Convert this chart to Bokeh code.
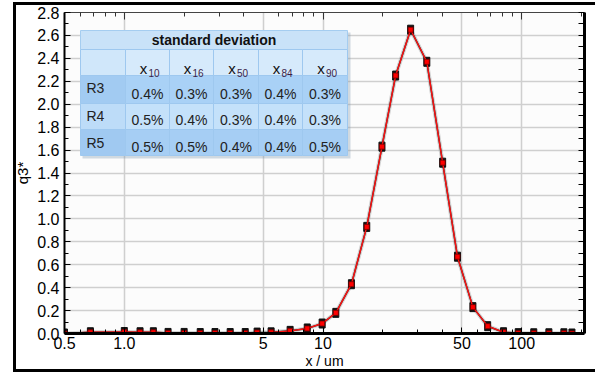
import numpy as np
from bokeh.plotting import figure
from bokeh.models import Range1d, FixedTicker, LinearAxis, LogAxis, PrintfTickFormatter
from bokeh.core.properties import value
from bokeh.embed import file_html
from bokeh.resources import INLINE

# ---------------- data ----------------
x_um = [0.5, 0.675, 1.0, 1.2, 1.4, 1.66, 2.0, 2.41, 2.86, 3.41, 4.06, 4.66, 5.48,
        6.83, 8.33, 9.9, 11.6, 13.9, 16.6, 19.8, 23.2, 27.6, 33.3, 40.0, 47.5,
        56.8, 67.4, 81, 96, 115, 137, 163, 179]
q3 = [0.0, 0.011, 0.013, 0.011, 0.011, 0.005, 0.005, 0.004, 0.004, 0.004, 0.004,
      0.008, 0.010, 0.023, 0.044, 0.087, 0.18, 0.43, 0.93, 1.63, 2.25, 2.65,
      2.37, 1.49, 0.67, 0.23, 0.064, 0.011, 0.003, 0.002, 0.002, 0.002, 0.0]

x_tick_values = [0.5, 1, 5, 10, 50, 100]
x_tick_labels = ["0.5", "1.0", "5", "10", "50", "100"]
x_minor_values = [0.6, 0.7, 0.8, 0.9, 2, 3, 4, 6, 7, 8, 9, 20, 30, 40, 60, 70, 80, 90, 200]
y_tick_values = [0.0, 0.2, 0.4, 0.6, 0.8, 1.0, 1.2, 1.4, 1.6, 1.8, 2.0, 2.2, 2.4, 2.6, 2.8]
y_minor_values = [0.1, 0.3, 0.5, 0.7, 0.9, 1.1, 1.3, 1.5, 1.7, 1.9, 2.1, 2.3, 2.5, 2.7]

table_title = "standard deviation"
table_cols = ["10", "16", "50", "84", "90"]
table_rows = ["R3", "R4", "R5"]
sd_R3 = ["0.4%", "0.3%", "0.3%", "0.4%", "0.3%"]
sd_R4 = ["0.5%", "0.4%", "0.3%", "0.4%", "0.3%"]
sd_R5 = ["0.5%", "0.5%", "0.4%", "0.4%", "0.5%"]

# ---------------- figure ----------------
X0, X1 = 0.5, 207.0
Y0, Y1 = 0.0, 2.8
FONT = value("Liberation Sans")

p = figure(width=595, height=372, x_axis_type="log",
           x_range=Range1d(X0, X1), y_range=Range1d(Y0, Y1),
           output_backend="svg", toolbar_location=None,
           min_border_left=64, min_border_right=11, min_border_top=12, min_border_bottom=39)
# outer frame lines of the chart (left, top, bottom) drawn as inset shadows behind a transparent canvas
p.styles = {"box-shadow": "inset 13px 0 0 0 white, inset 0 2px 0 0 white, "
                          "inset 16px 0 0 0 black, inset 0 5px 0 0 black, "
                          "inset 0 -3px 0 0 black"}
p.background_fill_color = "#fcfcfc"
p.border_fill_color = None
p.outline_line_color = None

# bottom axis
xa = p.xaxis[0]
xa.ticker = FixedTicker(ticks=x_tick_values, minor_ticks=x_minor_values)
xa.major_label_overrides = {float(v): s for v, s in zip(x_tick_values, x_tick_labels)}
xa.axis_line_width = 3
xa.major_tick_in = 6
xa.major_tick_out = 0
xa.minor_tick_in = 4
xa.minor_tick_out = 0
xa.major_label_standoff = 3
xa.major_label_text_font = "Liberation Sans"
xa.major_label_text_font_size = "16px"
xa.major_label_text_color = "#000000"
xa.axis_label = "x / um"
xa.axis_label_text_font = "Liberation Sans"
xa.axis_label_text_font_size = "14px"
xa.axis_label_text_font_style = "normal"
xa.axis_label_text_color = "#000000"
xa.axis_label_standoff = 1

# left axis
ya = p.yaxis[0]
ya.ticker = FixedTicker(ticks=y_tick_values, minor_ticks=y_minor_values)
ya.formatter = PrintfTickFormatter(format="%.1f")
ya.axis_line_width = 2
ya.major_tick_in = 6
ya.major_tick_out = 0
ya.minor_tick_in = 4
ya.minor_tick_out = 0
ya.major_label_standoff = 5
ya.major_label_text_font = "Liberation Sans"
ya.major_label_text_font_size = "16px"
ya.major_label_text_color = "#000000"
ya.axis_label = "q3*"
ya.axis_label_text_font = "Liberation Sans"
ya.axis_label_text_font_size = "15px"
ya.axis_label_text_font_style = "normal"
ya.axis_label_text_color = "#000000"
ya.axis_label_standoff = 3

# right axis (ticks only)
ra = LinearAxis(ticker=FixedTicker(ticks=y_tick_values + y_minor_values, minor_ticks=[]),
                major_label_text_font_size="1px", major_label_text_alpha=0.0,
                axis_line_width=3,
                major_tick_in=6, major_tick_out=0, minor_tick_in=0, minor_tick_out=0,
                major_label_standoff=0)
p.add_layout(ra, "right")

# top axis (ticks only)
ta = LogAxis(ticker=FixedTicker(ticks=[1, 10, 100], minor_ticks=[0.5] + x_minor_values),
             major_label_text_font_size="1px", major_label_text_alpha=0.0,
             axis_line_width=1, axis_line_color="#444444",
             major_tick_in=7, major_tick_out=0, minor_tick_in=4, minor_tick_out=0,
             major_tick_line_color="#333333", minor_tick_line_color="#333333",
             major_label_standoff=0)
p.add_layout(ta, "above")

# grid
p.xgrid.ticker = FixedTicker(ticks=x_tick_values)
p.ygrid.ticker = FixedTicker(ticks=y_tick_values)
p.xgrid.grid_line_color = "#cfcfcf"
p.ygrid.grid_line_color = "#cfcfcf"
p.xgrid.grid_line_width = 1.5
p.ygrid.grid_line_width = 1.5

# ---------------- curves ----------------
p.line(x_um, q3, line_color="#888888", line_width=4, line_alpha=0.35)
p.line(x_um, q3, line_color="#203030", line_width=1.6)
p.rect(x_um, q3, width=6, height=9, width_units="screen", height_units="screen",
       fill_color="#111111", line_color="#111111")
p.line(x_um, q3, line_color="#ff1010", line_width=1.4)
p.scatter(x_um, q3, marker="square", size=5, fill_color="#ff0000", line_color="#7a0000", line_width=0.8)

# ---------------- table (positions referenced to the frame) ----------------
FL, FR, FT, FB = 64.0, 584.0, 12.0, 333.0
def dx(px):
    return 10 ** (np.log10(X0) + (px - FL) / (FR - FL) * (np.log10(X1) - np.log10(X0)))
def dy(py):
    return Y0 + (FB - py) / (FB - FT) * (Y1 - Y0)

col_px = [80, 125, 169, 213, 258, 302, 347]
row_py = [30, 49, 75, 103, 129, 155]

# shadow
p.quad(left=[dx(col_px[0] + 2)], right=[dx(col_px[-1] + 3)], top=[dy(row_py[0] + 2)],
       bottom=[dy(row_py[-1] + 3)], fill_color="#7f97ad", fill_alpha=0.35, line_color=None)

row_colors = ["#c9e2f8", "#d6eafb", "#a9d1f6", "#c4e1fa", "#a6cef4"]
first_col_colors = ["#c9e2f8", "#d0e7fa", "#a2cbf2", "#bddcf8", "#a0c9f1"]
for r in range(5):
    top, bot = dy(row_py[r]), dy(row_py[r + 1])
    if r == 0:
        p.quad(left=[dx(col_px[0])], right=[dx(col_px[-1])], top=[top], bottom=[bot],
               fill_color=row_colors[0], line_color="#a5cdf0", line_width=1)
    else:
        lefts = [dx(c) for c in col_px[:-1]]
        rights = [dx(c) for c in col_px[1:]]
        fills = [first_col_colors[r]] + [row_colors[r]] * 5
        p.quad(left=lefts, right=rights, top=[top] * 6, bottom=[bot] * 6,
               fill_color=fills, line_color="#9ec8ef", line_width=1)

cx = [(a + b) / 2 for a, b in zip(col_px[1:-1], col_px[2:])]
p.text(x=[dx((col_px[0] + col_px[-1]) / 2)], y=[dy(39.5)], text=[table_title],
       text_font=FONT, text_font_size="14px", text_font_style="bold",
       text_align="center", text_baseline="middle", text_color="#111111")
p.text(x=[dx(c - 4) for c in cx], y=[dy(68)] * 5, text=["x"] * 5,
       text_font=FONT, text_font_size="15px", text_align="center",
       text_baseline="middle", text_color="#111111")
p.text(x=[dx(c + 1) for c in cx], y=[dy(72)] * 5, text=table_cols,
       text_font=FONT, text_font_size="10px", text_align="left",
       text_baseline="middle", text_color="#3c1f48")
row_label_py = [87, 115, 142]
value_py = [93, 119, 146]
for r, vals in enumerate([sd_R3, sd_R4, sd_R5]):
    p.text(x=[dx(86)], y=[dy(row_label_py[r])], text=[table_rows[r]],
           text_font=FONT, text_font_size="14px", text_align="left",
           text_baseline="middle", text_color="#222222")
    p.text(x=[dx(c) for c in cx], y=[dy(value_py[r])] * 5, text=vals,
           text_font=FONT, text_font_size="14px", text_align="center",
           text_baseline="middle", text_color="#222222")

open("out.html", "w").write(file_html(p, INLINE))
